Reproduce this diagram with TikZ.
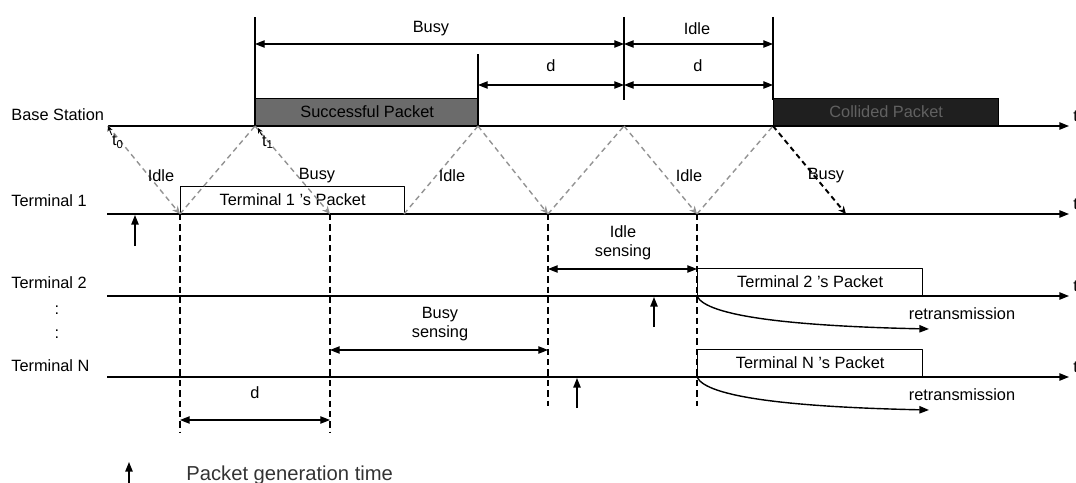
\documentclass[tikz,border=0pt]{standalone}
\usepackage{fontspec}
\setmainfont{Liberation Sans}
\usetikzlibrary{calc,arrows.meta}

\begin{document}
\begin{tikzpicture}[x=0.02cm, y=-0.02cm, >={Triangle[length=5.5pt,width=4.2pt]},
  line join=round, font=\fontsize{9.3}{11}\selectfont,
  axis/.style={->, line width=0.8pt},
  tick/.style={line width=0.8pt},
  span/.style={<->, line width=0.7pt},
  signal/.style={gray!85, line width=0.8pt, dash pattern=on 3pt off 2.2pt},
  probe/.style={signal, -{Stealth[length=4.5pt,width=4pt]}},
  sense/.style={line width=1.2pt, dash pattern=on 3.6pt off 2.3pt},
  pkt/.style={draw, line width=0.8pt, anchor=south west, inner sep=0pt,
    minimum height=0.54cm},
  gen/.style={->, line width=0.8pt},
  lab/.style={anchor=west, inner sep=0pt}]

  \useasboundingbox (0,0) rectangle (1076,483);

  % ===== time axes =====
  \coordinate (b0) at (108,126);
  \coordinate (b1) at (255,126);
  \coordinate (b2) at (478,126);
  \coordinate (b3) at (624,126);
  \coordinate (b4) at (773,126);
  \coordinate (bEnd) at (1069,126);

  \coordinate (a0) at (107,214);
  \coordinate (a1) at (180,214);
  \coordinate (a2) at (330,214);
  \coordinate (a3) at (404,214);
  \coordinate (a4) at (548,214);
  \coordinate (a5) at (697,214);
  \coordinate (a6) at (846,214);
  \coordinate (aEnd) at (1069,214);

  \coordinate (c0) at (107,296);
  \coordinate (c5) at (697,296);
  \coordinate (cEnd) at (1069,296);

  \coordinate (n0) at (107,377);
  \coordinate (n5) at (697,377);
  \coordinate (nEnd) at (1069,377);

  \draw[axis] (b0) -- (bEnd);
  \draw[axis] (a0) -- (aEnd);
  \draw[axis] (c0) -- (cEnd);
  \draw[axis] (n0) -- (nEnd);

  \node[lab] (tB) at (1073,116) {t};
  \node[lab] (tA) at (1073,204) {t};
  \node[lab] (tC) at (1073,286) {t};
  \node[lab] (tN) at (1073,367) {t};

  \node[lab] (lBase) at (11,115) {Base Station};
  \node[lab] (lOne) at (11,201) {Terminal 1};
  \node[lab] (lTwo) at (11,283) {Terminal 2};
  \node (dotA) at (57,310) {:};
  \node (dotB) at (57,334) {:};
  \node[lab] (lN) at (11,366) {Terminal N};

  % ===== packets =====
  \node[pkt, fill=black!58, minimum width=4.46cm] (succ) at (b1) {Successful Packet};
  \node[pkt, fill=black!88, text=black!62, minimum width=4.5cm] (coll) at (b4) {Collided Packet};
  \node[pkt, minimum width=4.48cm] (pOne) at (a1) {Terminal 1 's Packet};
  \node[pkt, minimum width=4.5cm] (pTwo) at (c5) {Terminal 2 's Packet};
  \node[pkt, minimum width=4.5cm] (pN) at (n5) {Terminal N 's Packet};

  % ===== busy / idle at the base station =====
  \draw[tick] (b1) -- (255,17);
  \draw[tick] (624,17) -- (624,100);
  \draw[tick] (773,17) -- (773,100);
  \draw[tick] (b2) -- (478,54);
  \draw[span] (255,44) -- (624,44);
  \draw[span] (624,44) -- (773,44);
  \draw[span] (478,85) -- (624,85);
  \draw[span] (624,85) -- (773,85);
  \node (busyTop) at (431,29) {Busy};
  \node (idleTop) at (697,29) {Idle};
  \node (dOne) at (551,66) {d};
  \node (dTwo) at (698,66) {d};

  % ===== propagation =====
  \draw[probe] (b0) -- (a1);
  \draw[signal] (a1) -- (b1);
  \draw[probe] (b1) -- (a2);
  \draw[signal] (a3) -- (b2);
  \draw[probe] (b2) -- (a4);
  \draw[signal] (a4) -- (b3);
  \draw[probe] (b3) -- (a5);
  \draw[signal] (a5) -- (b4);
  \draw[probe, black, line width=1.1pt] (b4) -- (a6);

  \node (idleA) at (161,176) {Idle};
  \node (busyA) at (317,176) {Busy};
  \node (idleB) at (452,176) {Idle};
  \node (idleC) at (689,176) {Idle};
  \node (busyB) at (826,176) {Busy};

  \node[inner sep=0pt] (tZero) at (118,142) {t\textsubscript{0}};
  \node[inner sep=0pt] (tOne) at (268,142) {t\textsubscript{1}};
  \draw[-{Stealth[length=3pt,width=3pt]}, line width=0.5pt] (tZero.north west) -- (b0);
  \draw[-{Stealth[length=3pt,width=3pt]}, line width=0.5pt] (tOne.north west) -- ($(b1)+(3,2)$);

  % ===== carrier sensing =====
  \draw[sense] (a1) -- (180,432);
  \draw[sense] (a2) -- (330,432);
  \draw[sense] (a4) -- (548,406);
  \draw[sense] (a5) -- (697,406);

  \draw[span] (180,420) -- (330,420);
  \node (dBot) at (255,393) {d};
  \draw[span] (330,350) -- (548,350);
  \node[align=center] (busySense) at (440,324) {Busy\\sensing};
  \draw[span] (548,269) -- (697,269);
  \node[align=center] (idleSense) at (623,243) {Idle\\sensing};

  % ===== retransmission =====
  \coordinate (rTwo) at (929,329);
  \coordinate (rN) at (929,410);
  \draw[->, line width=0.8pt] (c5) .. controls (706,316) and (790,326) .. (rTwo);
  \draw[->, line width=0.8pt] (n5) .. controls (706,397) and (790,407) .. (rN);
  \node (reTwo) at (962,314) {retransmission};
  \node (reN) at (962,395) {retransmission};

  % ===== packet generation =====
  \draw[gen] (135,246) -- (135,215);
  \draw[gen] (654,327) -- (654,297);
  \draw[gen] (577,408) -- (577,378);
  \draw[gen] (129,484) -- (129,462);
  \node[lab, font=\fontsize{11.5}{13}\selectfont, text=black!80] (legend) at (186,475) {Packet generation time};

\end{tikzpicture}
\end{document}
